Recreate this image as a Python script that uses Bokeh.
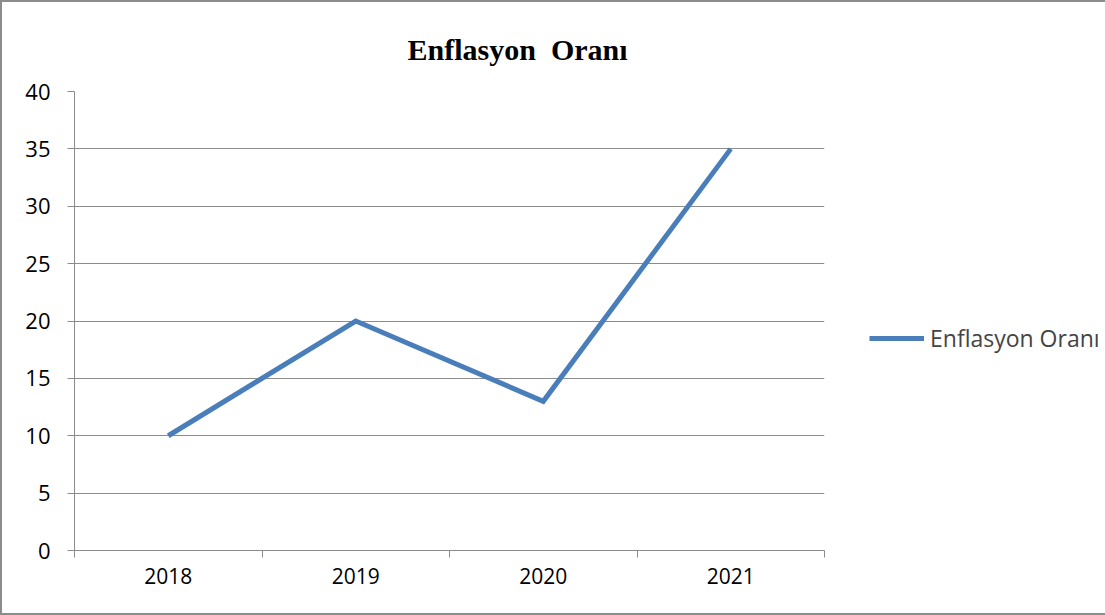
from bokeh.plotting import figure
from bokeh.models import FixedTicker, Legend, LegendItem, Range1d
from bokeh.embed import file_html
from bokeh.resources import INLINE

title_text = "Enflasyon\u00a0 Oranı"
years = ["2018", "2019", "2020", "2021"]
values = [10, 20, 13, 35]
series_name = "Enflasyon Oranı"
y_ticks = [0, 5, 10, 15, 20, 25, 30, 35, 40]

W, H = 1101, 611
p = figure(width=W, height=H, output_backend="svg", toolbar_location=None,
           x_range=Range1d(0, len(years)), y_range=Range1d(0, 40),
           frame_width=750, frame_height=459,
           min_border_left=72, min_border_right=279, min_border_top=89, min_border_bottom=63)
p.styles = {"border": "2px solid #8c8c8c"}
p.outline_line_color = None
p.background_fill_color = "white"
p.border_fill_color = "white"

# title
p.title.text = title_text
p.title.text_font = "Liberation Serif"
p.title.text_font_style = "bold"
p.title.text_font_size = "30px"
p.title.text_color = "black"
p.title.align = "left"
p.title.offset = 333
p.title.standoff = 51

xs = [i + 0.5 for i in range(len(years))]
r = p.line(xs, values, line_color="#4a7ebb", line_width=5, line_join="miter")

# x axis
p.xaxis.ticker = FixedTicker(ticks=xs, minor_ticks=list(range(len(years) + 1)))
p.xaxis.major_label_overrides = {x: y for x, y in zip(xs, years)}
p.xaxis.major_tick_out = 0
p.xaxis.major_tick_in = 0
p.xaxis.minor_tick_out = 7
p.xaxis.minor_tick_in = 0
p.xaxis.minor_tick_line_color = "#8c8c8c"
p.xaxis.axis_line_color = "#8c8c8c"
p.xaxis.major_label_text_font = "Open Sans"
p.xaxis.major_label_text_font_size = "21px"
p.xaxis.major_label_text_color = "black"
p.xaxis.major_label_standoff = 10
p.xgrid.grid_line_color = None

# y axis
p.yaxis.ticker = FixedTicker(ticks=y_ticks, minor_ticks=[])
p.yaxis.major_tick_out = 7
p.yaxis.major_tick_in = 0
p.yaxis.major_tick_line_color = "#8c8c8c"
p.yaxis.axis_line_color = "#8c8c8c"
p.yaxis.major_label_text_font = "Open Sans"
p.yaxis.major_label_text_font_size = "22px"
p.yaxis.major_label_text_color = "black"
p.yaxis.major_label_standoff = 17
p.ygrid.grid_line_color = "#8c8c8c"
p.ygrid.grid_line_width = 1.2

legend = Legend(items=[LegendItem(label=series_name, renderers=[r])],
                location=(45, 196), orientation="vertical",
                label_text_font="Open Sans", label_text_font_size="23px",
                glyph_width=55, glyph_height=22, label_standoff=6,
                border_line_color=None, background_fill_alpha=0, padding=0, margin=0)
p.add_layout(legend, "right")

open("out.html", "w").write(file_html(p, INLINE))
